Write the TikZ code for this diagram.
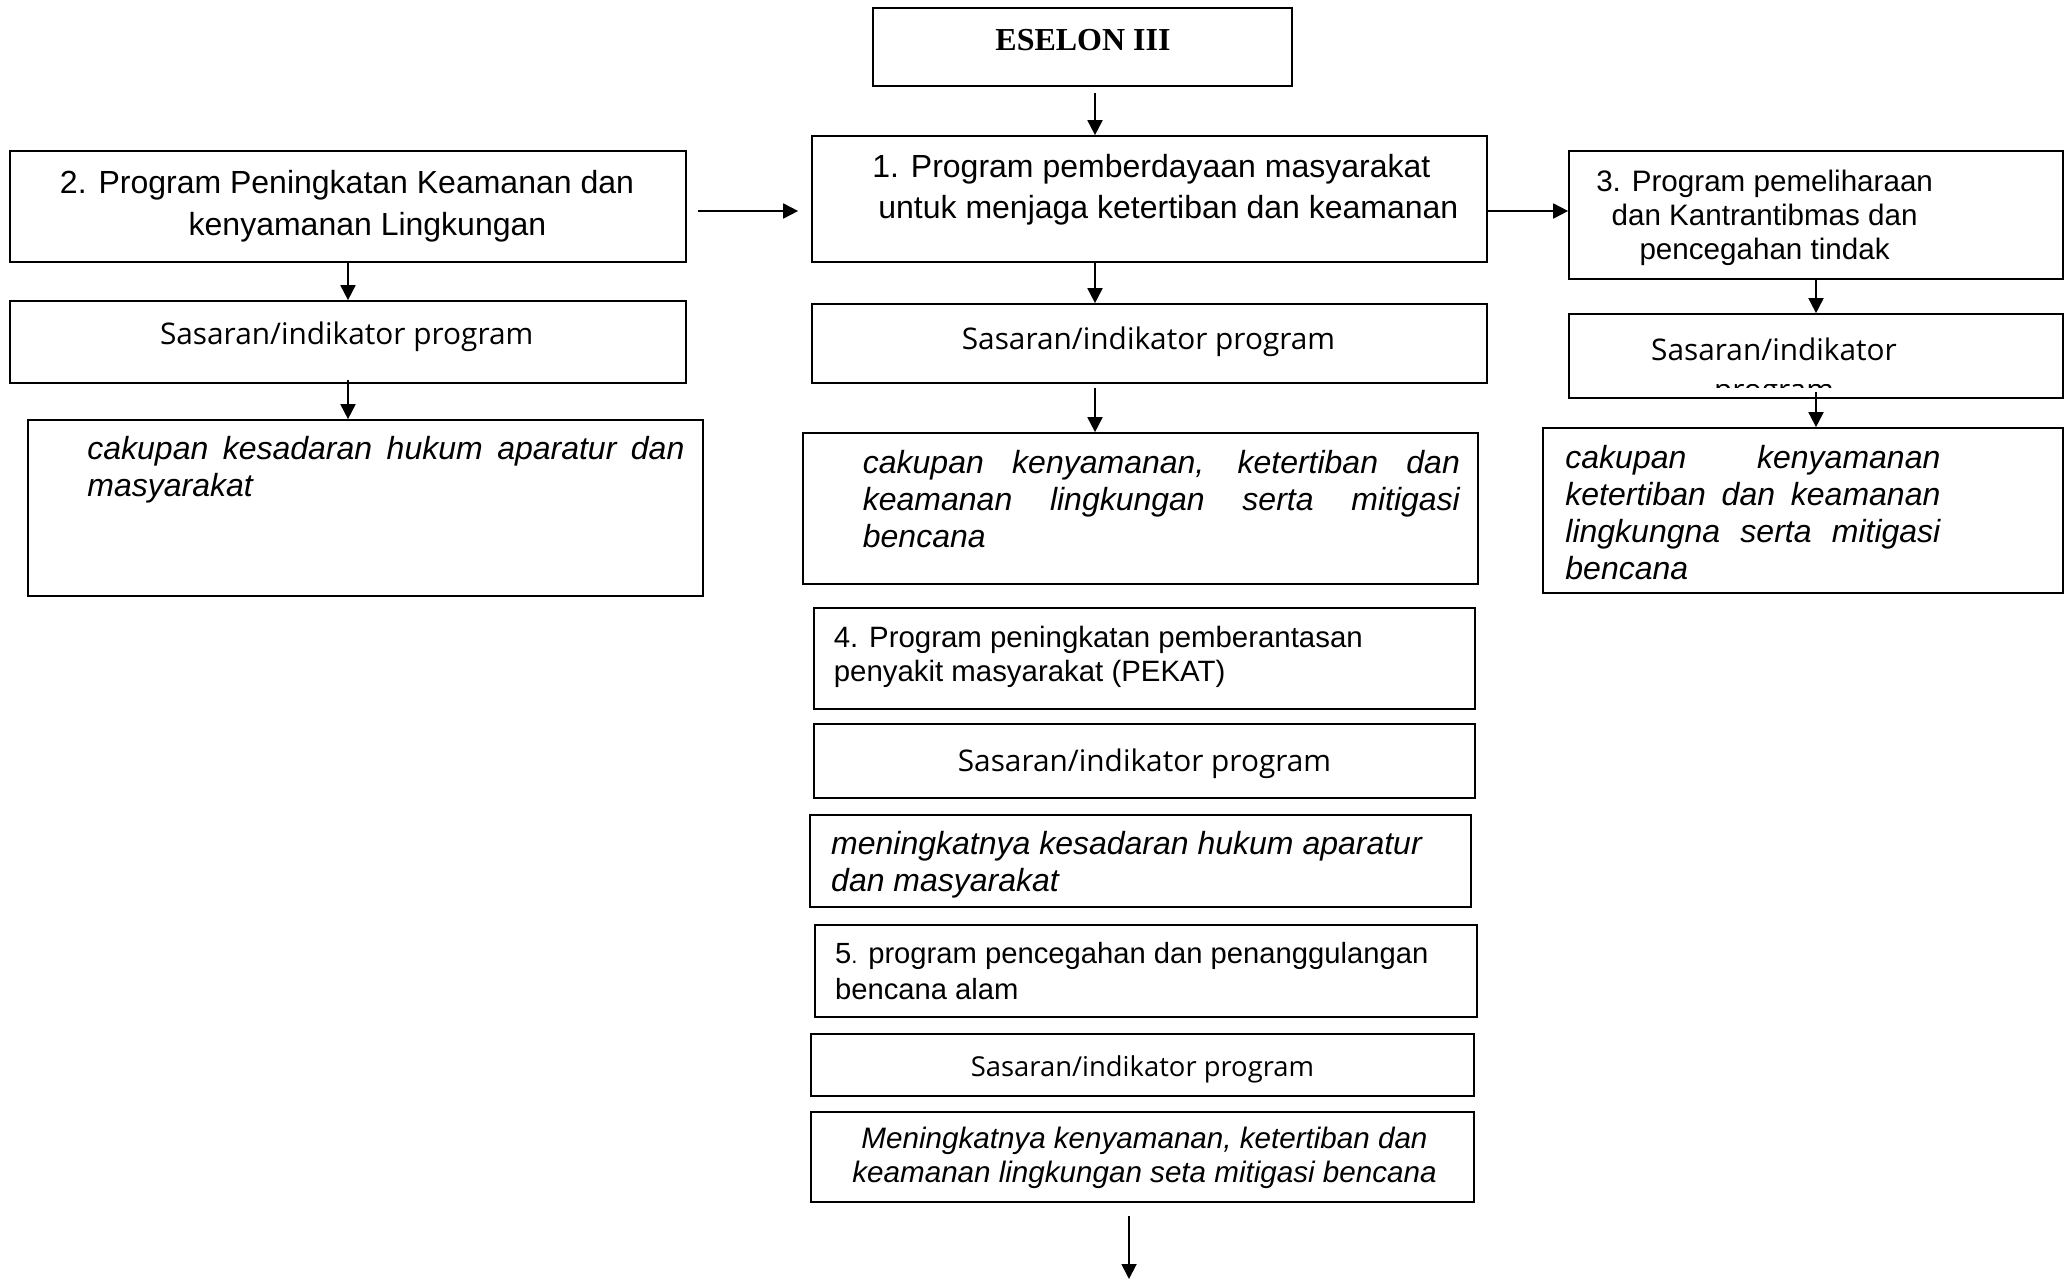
\documentclass[tikz,border=0pt]{standalone}
\usepackage{fontspec}
\setmainfont{Liberation Sans}
\newfontfamily\sasfont{Open Sans}
\newfontfamily\eselonfont{Liberation Serif}
\usetikzlibrary{arrows.meta}
\newcommand{\rataline}[2]{\makebox[#1][s]{#2}}

\begin{document}
\begin{tikzpicture}[x=0.5pt, y=-0.5pt,
    box/.style={draw, line width=0.85pt, inner sep=0pt},
    lbl/.style={inner sep=0pt, font=\fontsize{16}{18.5}\selectfont},
    sas/.style={inner sep=0pt, font=\sasfont\fontsize{14.9}{21}\selectfont},
    arr/.style={-{Triangle[length=7.5pt,width=7.5pt]}, line width=0.9pt}
]
\useasboundingbox (0,0) rectangle (2071,1280);

% kolom panah
\coordinate (kM) at (1095,0);
\coordinate (kB) at (1129,0);
\coordinate (kEnd) at (1129,1279);

% baris atas
\node[box, minimum width=209.5pt, minimum height=39pt] (esl) at (1082.5,47) {};
\node[lbl, font=\eselonfont\bfseries\fontsize{16}{19}\selectfont] (esl-t) at (1083,40) {ESELON III};

\node[box, minimum width=337.5pt, minimum height=63pt] (p1) at (1149.5,199) {};
\node[lbl, align=left, anchor=west, font=\fontsize{16}{20.5}\selectfont] (p1-t) at (872,189.5)
    {1. Program pemberdayaan masyarakat\\\hspace*{3pt}untuk menjaga ketertiban dan keamanan};

\node[box, minimum width=338pt, minimum height=55.5pt] (p2) at (348,206.5) {};
\node[lbl, align=center, font=\fontsize{16}{21}\selectfont] (p2-t) at (347,206)
    {2. Program Peningkatan Keamanan dan\\\hspace*{20.5pt}kenyamanan Lingkungan};

\node[box, minimum width=247pt, minimum height=64pt] (p3) at (1816,215) {};
\node[lbl, align=center, font=\fontsize{14.8}{17}\selectfont] (p3-t) at (1764.6,218)
    {3. Program pemeliharaan\\dan Kantrantibmas dan\\pencegahan tindak};

% sasaran
\node[box, minimum width=338pt, minimum height=41pt] (sL) at (348,342) {};
\node[sas] (sL-t) at (346.7,337) {Sasaran/indikator program};

\node[box, minimum width=337.5pt, minimum height=39.5pt] (s1) at (1149.5,343.5) {};
\node[sas] (s1-t) at (1148.5,342) {Sasaran/indikator program};

\node[box, minimum width=247pt, minimum height=42pt] (sR) at (1816,356) {};
\node[sas, anchor=base] (sR-t) at (1774,360) {Sasaran/indikator};
\begin{scope}
  \clip (1569,384) rectangle (2063,387.5);
  \node[sas, anchor=base] (sR-t2) at (1774,400.5) {program};
\end{scope}

% cakupan
\node[box, minimum width=337.5pt, minimum height=88pt] (cL) at (365.5,508) {};
\node[lbl, align=left, anchor=west, font=\itshape\fontsize{16}{18.5}\selectfont] (cL-t) at (87,470)
    {\rataline{298.5pt}{cakupan kesadaran hukum aparatur dan}\\masyarakat};

\node[box, minimum width=337.5pt, minimum height=75.5pt] (c1) at (1140.5,508.5) {};
\node[lbl, align=left, anchor=west, font=\itshape\fontsize{16}{18.5}\selectfont] (c1-t) at (862.5,499.5)
    {\rataline{298.5pt}{cakupan kenyamanan, ketertiban dan}\\
     \rataline{298.5pt}{keamanan lingkungan serta mitigasi}\\bencana};

\node[box, minimum width=260pt, minimum height=82.5pt] (cR) at (1803,510.5) {};
\node[lbl, align=left, anchor=west, font=\itshape\fontsize{16}{18.5}\selectfont] (cR-t) at (1565,512.5)
    {\rataline{187.5pt}{cakupan kenyamanan}\\
     \rataline{187.5pt}{ketertiban dan keamanan}\\
     \rataline{187.5pt}{lingkungna serta mitigasi}\\bencana};

% program 4 dan 5
\node[box, minimum width=330.5pt, minimum height=50.5pt] (p4) at (1144.5,658.5) {};
\node[lbl, align=left, anchor=west, font=\fontsize{14.7}{17.2}\selectfont] (p4-t) at (833.4,657)
    {4. Program peningkatan pemberantasan\\penyakit masyarakat (PEKAT)};

\node[box, minimum width=330.5pt, minimum height=37pt] (s4) at (1144.5,761) {};
\node[sas] (s4-t) at (1144.5,764) {Sasaran/indikator program};

\node[box, minimum width=330.5pt, minimum height=46pt] (m4) at (1140.5,861) {};
\node[lbl, align=left, anchor=west, font=\itshape\fontsize{16}{18.5}\selectfont] (m4-t) at (830.8,864.5)
    {meningkatnya kesadaran hukum aparatur\\dan masyarakat};

\node[box, minimum width=331pt, minimum height=46pt] (p5) at (1146,971) {};
\node[lbl, align=left, anchor=west, font=\fontsize{14.6}{17.8}\selectfont] (p5-t) at (834.7,971)
    {5{\fontsize{11}{13}\selectfont.} program pencegahan dan penanggulangan\\bencana alam};

\node[box, minimum width=331.5pt, minimum height=31pt] (s5) at (1142.5,1065) {};
\node[sas, font=\sasfont\fontsize{13.7}{16}\selectfont] (s5-t) at (1142.5,1069) {Sasaran/indikator program};

\node[box, minimum width=331.5pt, minimum height=45pt] (m5) at (1142.5,1157) {};
\node[lbl, align=center, font=\itshape\fontsize{14.8}{17.2}\selectfont] (m5-t) at (1144.5,1158)
    {Meningkatnya kenyamanan, ketertiban dan\\keamanan lingkungan seta mitigasi bencana};

% panah
\draw[arr] ([yshift=-3pt]esl.south -| kM) -- (p1.north -| kM);
\draw[arr] ([xshift=5.5pt,yshift=-2.25pt]p2.east) -- ([xshift=-6.5pt,yshift=-2.25pt]p2.east -| p1.west);
\draw[arr] ([yshift=-6pt]p1.east) -- ([yshift=-6pt]p1.east -| p3.west);
\draw[arr] (p2.south) -- (sL.north);
\draw[arr] ([yshift=2pt]sL.south) -- (sL.south |- cL.north);
\draw[arr] (p1.south -| kM) -- (s1.north -| kM);
\draw[arr] ([yshift=-2pt]s1.south -| kM) -- (c1.north -| kM);
\draw[arr] (p3.south) -- (sR.north);
\draw[arr] ([yshift=3.5pt]sR.south) -- (sR.south |- cR.north);
\draw[arr] ([yshift=-6.5pt]m5.south -| kB) -- (kEnd);
\end{tikzpicture}
\end{document}
